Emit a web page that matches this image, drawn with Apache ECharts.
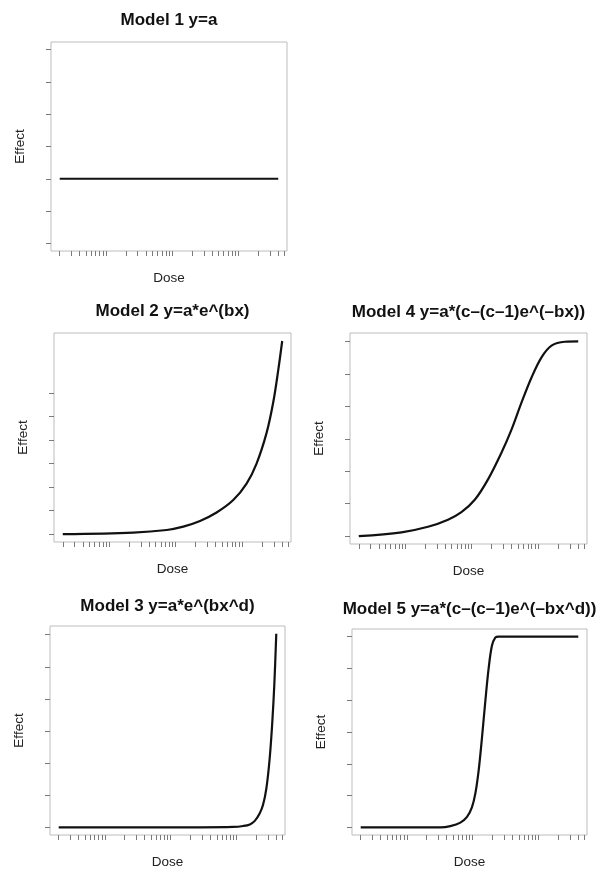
<!DOCTYPE html>
<html>
<head>
<meta charset="utf-8">
<script src="https://cdn.jsdelivr.net/npm/echarts@6/dist/echarts.min.js"></script>
<style>
html,body{margin:0;padding:0;background:#fff}
#chart{width:600px;height:870px}
</style>
</head>
<body>
<div id="chart"></div>
<script>
// tick positions (no labels shown on the axes)
var doseTicks = [1,1.5,2,2.5,3,3.5,4,4.5,5,
                 10,15,20,25,30,35,40,45,50,
                 100,150,200,250,300,350,400,450,500,
                 1000,1500,2000,2500]
var effectTicks = [0,1,2,3,4,5,6]

// curves
var m1Dose = [1, 2000]
var m1Effect = [2, 2]

var m2Dose = [1, 11.5, 36.6, 65, 116, 206, 367, 582, 823, 1164, 1466, 1741, 2000]
var m2Effect = [0, 0.07, 0.18, 0.32, 0.56, 0.92, 1.45, 2.15, 3.0, 4.3, 5.6, 6.95, 8.2]

var m3Dose = [1, 140, 445, 630, 794, 944, 1123, 1260, 1415, 1589, 1742, 1866, 2000]
var m3Effect = [0, 0, 0.01, 0.04, 0.09, 0.2, 0.44, 0.7, 1.21, 2.15, 3.29, 4.43, 6.03]

var m4Dose = [1, 4.4, 11, 22, 35, 56, 88, 140, 199, 281, 397, 561, 794, 1259, 2000]
var m4Effect = [0, 0.12, 0.29, 0.51, 0.74, 1.13, 1.75, 2.57, 3.29, 4.12, 4.89, 5.51, 5.87, 5.99, 6]

var m5Dose = [1, 16.2, 22.9, 32.5, 41, 48.8, 54.8, 61.5, 69.1, 77.6, 87.2, 97.9, 110, 124, 2000]
var m5Effect = [0, 0, 0.04, 0.15, 0.33, 0.64, 1.06, 1.78, 2.81, 3.95, 4.99, 5.71, 5.97, 6, 6]

var titles = ['Model 1 y=a', 'Model 2 y=a*e^(bx)', 'Model 4 y=a*(c\u2013(c\u20131)e^(\u2013bx))',
              'Model 3 y=a*e^(bx^d)', 'Model 5 y=a*(c\u2013(c\u20131)e^(\u2013bx^d))']
var doses = [m1Dose, m2Dose, m4Dose, m3Dose, m5Dose]
var effects = [m1Effect, m2Effect, m4Effect, m3Effect, m5Effect]

var boxes = [
    {left: 51, top: 42, width: 236, height: 209, titleTop: 12, yMax: 6.24},
    {left: 54, top: 333, width: 237, height: 209, titleTop: 303, yMax: 8.54, yMin: -0.33},
    {left: 350, top: 333, width: 237, height: 211, titleTop: 304, yMax: 6.26},
    {left: 50, top: 626, width: 235, height: 211, titleTop: 598, yMax: 6.27},
    {left: 352, top: 629, width: 235, height: 209, titleTop: 601, yMax: 6.24}
]

var font = 'Liberation Sans, Arial, Helvetica, sans-serif'
var grid = [], xAxis = [], yAxis = [], series = [], title = []

for (var i = 0; i < boxes.length; i++) {
    var b = boxes[i]
    grid.push({
        left: b.left, top: b.top, width: b.width, height: b.height,
        show: true, borderColor: '#bdbdbd', borderWidth: 1, containLabel: false
    })
    title.push({
        text: titles[i],
        left: b.left + b.width / 2,
        top: b.titleTop,
        textAlign: 'center',
        padding: 0,
        textStyle: {fontFamily: font, fontSize: 17, fontWeight: 'bold', color: '#111'}
    })
    xAxis.push({
        type: 'log', logBase: 10, gridIndex: i,
        min: 0.738, max: 2712,
        name: 'Dose', nameLocation: 'middle', nameGap: 20,
        nameTextStyle: {fontFamily: font, fontSize: 13.5, color: '#222'},
        axisLine: {show: false, onZero: false},
        axisTick: {show: true, length: 5, customValues: doseTicks,
                   lineStyle: {color: '#7a7a7a', width: 1}},
        axisLabel: {show: false},
        splitLine: {show: false},
        minorTick: {show: false}
    })
    yAxis.push({
        type: 'value', gridIndex: i,
        min: b.yMin == null ? -0.24 : b.yMin, max: b.yMax,
        name: 'Effect', nameLocation: 'middle', nameGap: 24,
        nameTextStyle: {fontFamily: font, fontSize: 13.5, color: '#222'},
        axisLine: {show: false, onZero: false},
        axisTick: {show: true, length: 5, customValues: effectTicks,
                   lineStyle: {color: '#7a7a7a', width: 1}},
        axisLabel: {show: false},
        splitLine: {show: false}
    })
    var pts = []
    for (var k = 0; k < doses[i].length; k++) pts.push([doses[i][k], effects[i][k]])
    series.push({
        type: 'line', xAxisIndex: i, yAxisIndex: i,
        data: pts, showSymbol: false, smooth: 0.35,
        lineStyle: {color: '#111', width: 2.2},
        silent: true, animation: false
    })
}

var myChart = echarts.init(document.getElementById('chart'))
myChart.setOption({
    animation: false,
    backgroundColor: '#fff',
    title: title,
    grid: grid,
    xAxis: xAxis,
    yAxis: yAxis,
    series: series
})
</script>
</body>
</html>
